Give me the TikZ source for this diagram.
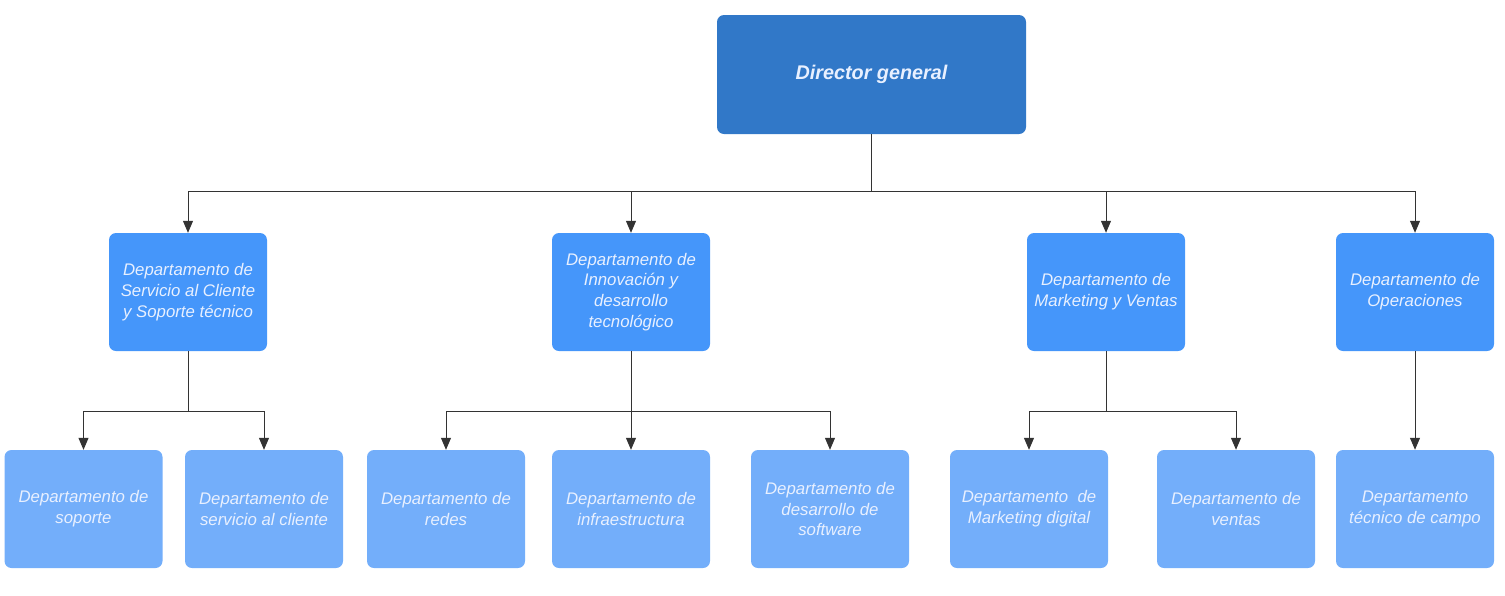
\documentclass[tikz,border=0pt]{standalone}
\usepackage{fontspec}
\setmainfont{Liberation Sans}
\usetikzlibrary{arrows.meta}
\definecolor{topblue}{RGB}{49,120,200}
\definecolor{midblue}{RGB}{69,150,250}
\definecolor{lowblue}{RGB}{115,174,250}
\definecolor{txtw}{RGB}{232,240,255}
\definecolor{linec}{RGB}{51,51,51}
\tikzset{
  boxbase/.style={rounded corners=7pt, inner sep=0pt, align=center, text=txtw,
    font=\fontsize{16.8}{20.8}\selectfont\itshape},
  topbox/.style={boxbase, fill=topblue, minimum width=309pt, minimum height=119pt,
    font=\fontsize{19.8}{22}\selectfont\bfseries\itshape},
  midbox/.style={boxbase, fill=midblue, minimum width=158pt, minimum height=118pt},
  lowbox/.style={boxbase, fill=lowblue, minimum width=158pt, minimum height=118pt},
  conn/.style={draw=linec, line width=1pt},
  arr/.style={conn, -{Triangle[length=12pt,width=10pt]}}
}
\begin{document}
\begin{tikzpicture}[x=1pt,y=-1pt]
\useasboundingbox (0,0) rectangle (1505,595);
\node[topbox] (dg) at (871.5,74.5) {Director general};
\node[midbox] (m1) at (188,292) {Departamento de\\Servicio al Cliente\\y Soporte técnico};
\node[midbox] (m2) at (631,292) {Departamento de\\Innovación y\\desarrollo\\tecnológico};
\node[midbox] (m3) at (1106,292) {Departamento de\\Marketing y Ventas};
\node[midbox] (m4) at (1415,292) {Departamento de\\Operaciones};
\node[lowbox] (b1) at (83.5,509) {Departamento de\\soporte};
\node[lowbox] (b2) at (264,509) {Departamento de\\servicio al cliente};
\node[lowbox] (b3) at (446,509) {Departamento de\\redes};
\node[lowbox] (b4) at (631,509) {Departamento de\\infraestructura};
\node[lowbox] (b5) at (830,509) {Departamento de\\desarrollo de\\software};
\node[lowbox] (b6) at (1029,509) {Departamento\ \ de\\Marketing digital};
\node[lowbox] (b7) at (1236,509) {Departamento de\\ventas};
\node[lowbox] (b8) at (1415,509) {Departamento\\técnico de campo};
\coordinate (busT) at (871.5,191);
\coordinate (bus1) at (188,411);
\coordinate (bus2) at (631,411);
\coordinate (bus3) at (1106,411);
\draw[conn] (dg.south) -- (busT);
\foreach \m in {m1,m2,m3,m4}{
  \draw[arr] (busT) -| (\m.north);
}
\draw[conn] (m1.south) -- (bus1);
\draw[arr] (bus1) -| (b1.north);
\draw[arr] (bus1) -| (b2.north);
\draw[conn] (m2.south) -- (bus2);
\draw[arr] (bus2) -| (b3.north);
\draw[arr] (bus2) -- (b4.north);
\draw[arr] (bus2) -| (b5.north);
\draw[conn] (m3.south) -- (bus3);
\draw[arr] (bus3) -| (b6.north);
\draw[arr] (bus3) -| (b7.north);
\draw[arr] (m4.south) -- (b8.north);
\end{tikzpicture}
\end{document}
